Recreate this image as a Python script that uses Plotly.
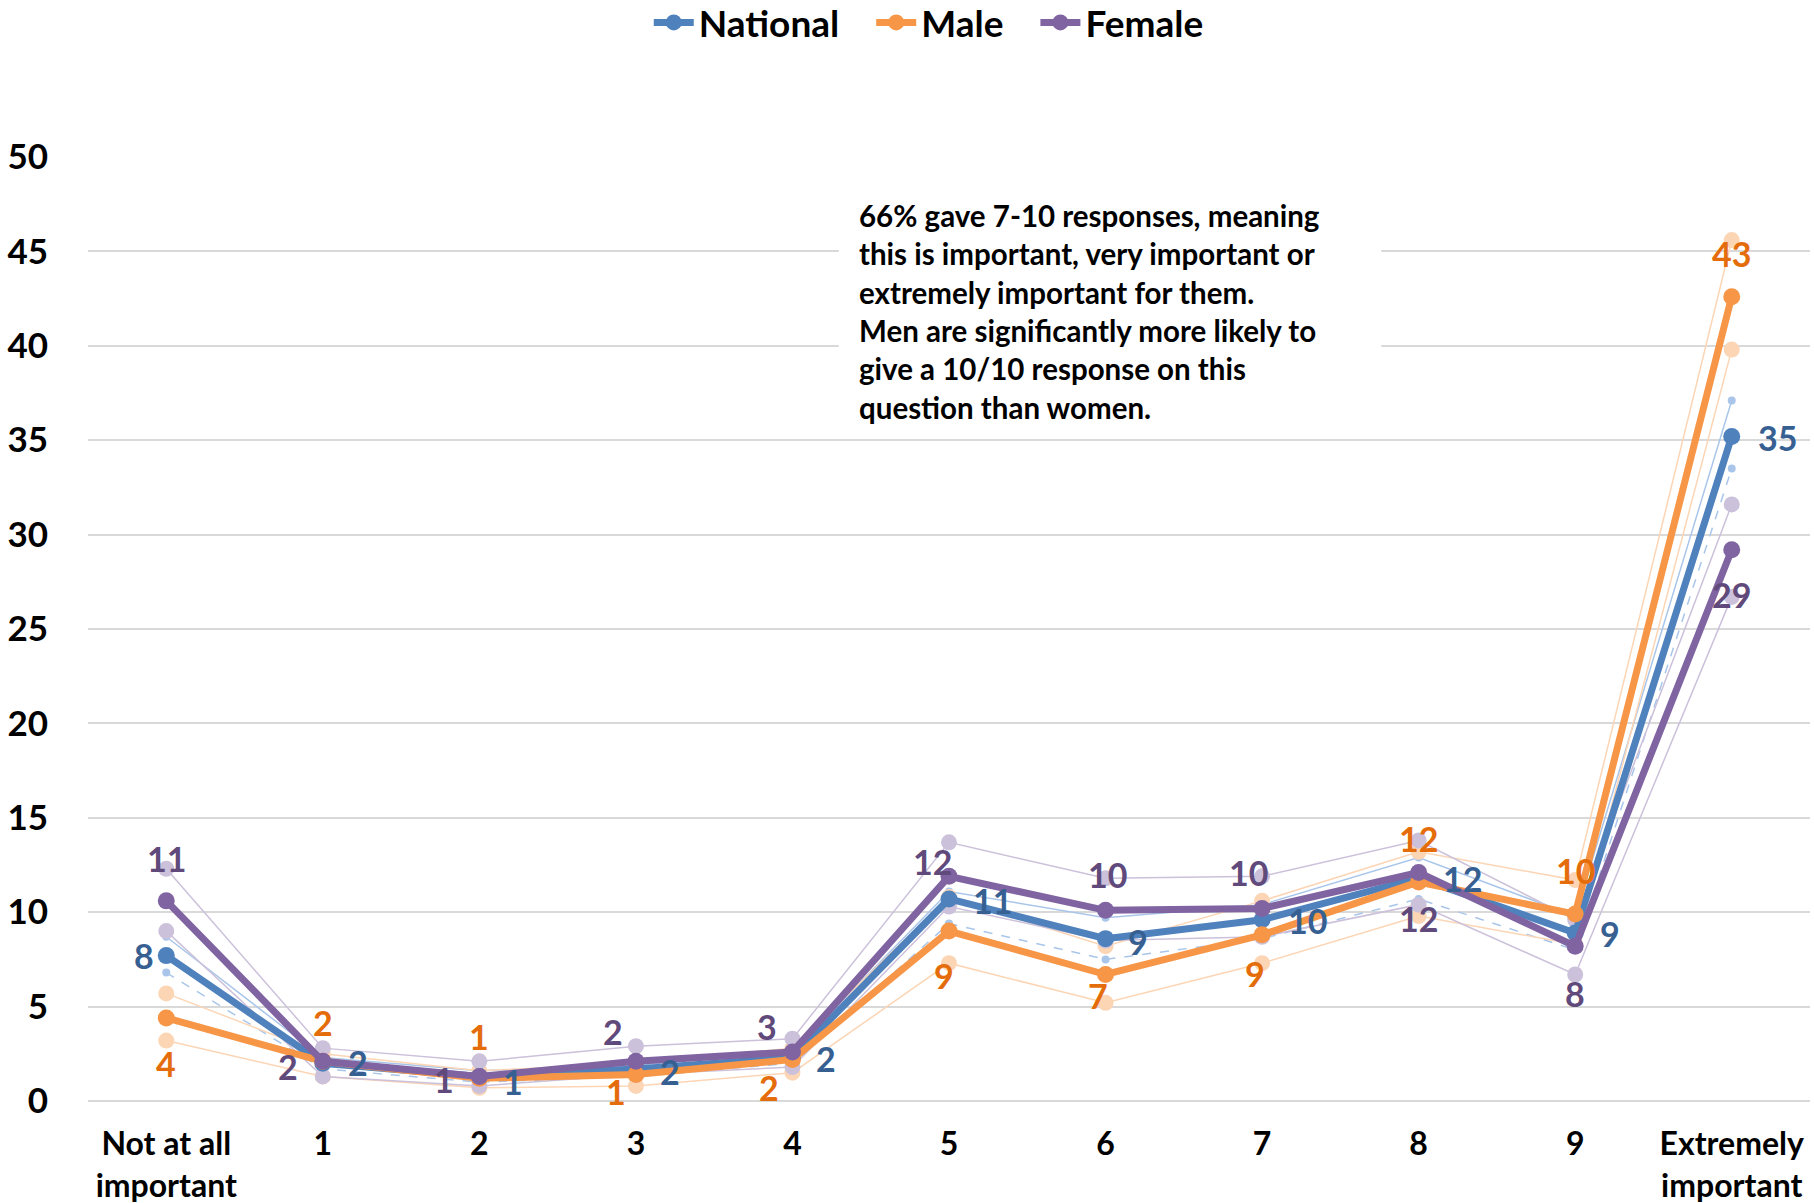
import plotly.graph_objects as go

# ---------------- data ----------------
categories = ["Not at all<br>important", "1", "2", "3", "4", "5", "6", "7", "8", "9",
              "Extremely<br>important"]

national = [7.7, 2.0, 1.3, 1.7, 2.3, 10.7, 8.6, 9.6, 11.8, 8.9, 35.2]
male = [4.4, 2.1, 1.2, 1.4, 2.2, 9.0, 6.7, 8.8, 11.6, 9.9, 42.6]
female = [10.6, 2.1, 1.3, 2.1, 2.6, 11.9, 10.1, 10.2, 12.1, 8.2, 29.2]

national_upper = [8.7, 2.3, 1.6, 1.9, 2.6, 11.1, 9.7, 10.4, 12.9, 9.8, 37.1]
national_lower = [6.8, 1.7, 1.0, 1.3, 2.0, 9.4, 7.5, 8.6, 10.7, 8.0, 33.5]
male_upper = [5.7, 2.5, 1.6, 2.0, 2.8, 10.8, 8.2, 10.6, 13.2, 11.7, 45.6]
male_lower = [3.2, 1.3, 0.7, 0.8, 1.5, 7.3, 5.2, 7.3, 9.8, 8.3, 39.8]
female_upper = [12.3, 2.8, 2.1, 2.9, 3.3, 13.7, 11.8, 11.9, 13.8, 9.6, 31.6]
female_lower = [9.0, 1.3, 0.8, 1.4, 1.8, 10.3, 8.5, 8.7, 10.4, 6.7, 26.7]

series_names = ["National", "Male", "Female"]

note_text = ("66% gave 7-10 responses, meaning<br>"
             "this is important, very important or<br>"
             "extremely important for them.<br>"
             "Men are significantly more likely to<br>"
             "give a 10/10 response on this<br>"
             "question than women.")

# ---------------- styles ----------------
FONT = "Lato"
C_NAT, C_MALE, C_FEM = "#4F81BD", "#F79646", "#8064A2"
L_NAT, L_MALE, L_FEM = "#376092", "#E46C0A", "#604A7B"
F_NAT, F_MALE, F_FEM = "#A9C6EA", "#FCD5B5", "#CCC1DA"
NBSP = "\u00a0"

# label offsets (dx, dy) in pixels, dy positive = up
off_nat = [(-22, 0), (35, 1), (34, -5), (34, -3), (34, -1), (43, -2), (32, -3),
           (45, -1), (44, 0), (35, -1), (46, -1)]
off_male = [(0, -46), (0, 39), (0, 42), (-20, -17), (-23, -28), (-5, -44), (-8, -21),
            (-7, -39), (0, 43), (0, 44), (0, 43)]
off_fem = [(0, 42), (-35, -5), (-35, -3), (-23, 30), (-25, 25), (-17, 15), (2, 36),
           (-14, 36), (0, -46), (0, -47), (0, -45)]

fig = go.Figure()

# faint confidence lines
faint = [
    (national_upper, F_NAT, 8, "solid"),
    (national_lower, F_NAT, 8, "dash"),
    (male_upper, F_MALE, 16, "solid"),
    (male_lower, F_MALE, 16, "solid"),
    (female_upper, F_FEM, 16, "solid"),
    (female_lower, F_FEM, 16, "solid"),
]
for vals, col, ms, dash in faint:
    fig.add_trace(go.Scatter(
        x=categories, y=vals, mode="lines+markers", showlegend=False,
        line=dict(color=col, width=1.5, dash=dash),
        marker=dict(color=col, size=ms), hoverinfo="skip"))

# main lines
mains = [(series_names[0], national, C_NAT, L_NAT, off_nat, 3),
         (series_names[1], male, C_MALE, L_MALE, off_male, 3),
         (series_names[2], female, C_FEM, L_FEM, off_fem, 0)]
for name, vals, col, lcol, offs, pad in mains:
    fig.add_trace(go.Scatter(
        x=categories, y=vals, mode="lines+markers", name=name + NBSP * pad,
        line=dict(color=col, width=7), marker=dict(color=col, size=17)))

for name, vals, col, lcol, offs, pad in mains:
    for cat, v, (dx, dy) in zip(categories, vals, offs):
        fig.add_annotation(
            x=cat, y=v, xref="x", yref="y", text=f"{v:.0f}", showarrow=False,
            xshift=dx, yshift=dy, xanchor="center", yanchor="middle",
            font=dict(family=FONT, size=34, color=lcol, weight="bold"))

# text box
fig.add_shape(type="rect", xref="paper", yref="paper",
              x0=0.436, x1=0.751, y0=0.708, y1=0.964,
              fillcolor="white", line=dict(width=0), layer="above")
fig.add_annotation(
    xref="paper", yref="paper", x=0.4466, y=0.959, xanchor="left", yanchor="top",
    text=note_text, showarrow=False, align="left",
    font=dict(family=FONT, size=29.5, color="black", weight="bold"))

fig.update_layout(
    width=1814, height=1203,
    margin=dict(l=88, r=4, t=157, b=102),
    paper_bgcolor="white", plot_bgcolor="white",
    font=dict(family=FONT, color="black"),
    legend=dict(orientation="h", xref="container", yref="container",
                x=0.512, y=0.981, xanchor="center", yanchor="middle",
                font=dict(family=FONT, size=37, color="black", weight="bold"),
                itemwidth=40, tracegroupgap=0),
    showlegend=True,
)
fig.update_xaxes(type="category", range=[-0.5, 10.5], showgrid=False, showline=False,
                 zeroline=False, ticks="outside", ticklen=15, tickcolor="rgba(0,0,0,0)",
                 automargin=False,
                 tickfont=dict(family=FONT, size=32, color="black", weight="bold"))
fig.update_yaxes(range=[0, 50], dtick=5, showgrid=True, gridcolor="#D9D9D9", gridwidth=2,
                 zeroline=True, zerolinecolor="#D9D9D9", zerolinewidth=2, showline=False,
                 ticks="outside", ticklen=32, tickcolor="rgba(0,0,0,0)",
                 automargin=False,
                 tickfont=dict(family=FONT, size=35, color="black", weight="bold"))

fig.write_html("out.html", config={"displayModeBar": False},
               post_script="document.body.style.margin='0';document.body.style.overflow='hidden';")
